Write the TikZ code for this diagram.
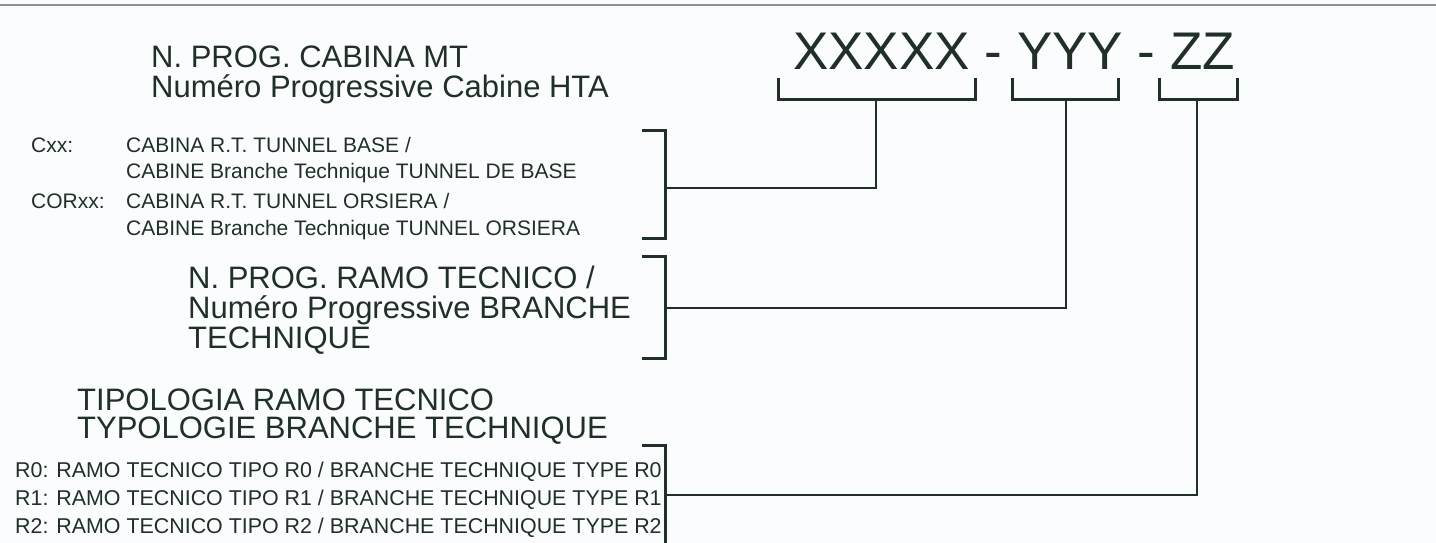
\documentclass[tikz,border=0pt]{standalone}
\usepackage{fontspec}
\setmainfont{Liberation Sans}
\definecolor{ink}{RGB}{32,48,40}
\definecolor{rule}{RGB}{140,145,150}
\definecolor{paper}{RGB}{251,252,254}
\begin{document}
\begin{tikzpicture}[x=1pt,y=-1pt,
  txt/.style={anchor=base west,inner sep=0pt,text=ink},
  big/.style={txt,font=\fontsize{53}{53}\selectfont},
  ttl/.style={txt,font=\fontsize{31}{31}\selectfont},
  sml/.style={txt,font=\fontsize{21}{21}\selectfont},
  rsml/.style={txt,font=\fontsize{21.4}{21.4}\selectfont},
  brk/.style={draw=ink,line width=3pt,line cap=butt,line join=miter},
  con/.style={draw=ink,line width=2.2pt}]
\fill[paper] (0,0) rectangle (1436,543);
\useasboundingbox (0,0) rectangle (1436,543);
\draw[rule,line width=2.2pt] (0,5) -- (1436,5);

% code
\node[big] (code) at (793,70) {XXXXX - YYY - ZZ};

% top brackets
\draw[brk] (778,78) -- (778,100) -- (975,100) -- (975,78);
\draw[brk] (1012,78) -- (1012,100) -- (1118,100) -- (1118,78);
\draw[brk] (1159,78) -- (1159,100) -- (1237,100) -- (1237,78);
\coordinate (xb) at (876,100);
\coordinate (yb) at (1066,100);
\coordinate (zb) at (1197,100);

% title 1
\node[ttl] (t1a) at (151,67) {N. PROG. CABINA MT};
\node[ttl] (t1b) at (151,98) {Numéro Progressive Cabine HTA};

% group 1
\node[sml] (c1k) at (31,152) {Cxx:};
\node[sml] (c1a) at (126,152) {CABINA R.T. TUNNEL BASE /};
\node[sml] (c1b) at (126,178) {CABINE Branche Technique TUNNEL DE BASE};
\node[sml] (c2k) at (31,208) {CORxx:};
\node[sml] (c2a) at (126,208) {CABINA R.T. TUNNEL ORSIERA /};
\node[sml] (c2b) at (126,235) {CABINE Branche Technique TUNNEL ORSIERA};
\draw[brk] (642,130) -- (665,130) -- (665,238) -- (642,238);
\coordinate (lb1) at (665,188);

% title 2
\node[ttl] (t2a) at (188,288) {N. PROG. RAMO TECNICO /};
\node[ttl] (t2b) at (188,318) {Numéro Progressive BRANCHE};
\node[ttl] (t2c) at (188,348) {TECHNIQUE};
\draw[brk] (642,256) -- (665,256) -- (665,358) -- (642,358);
\coordinate (lb2) at (665,308);

% title 3
\node[ttl] (t3a) at (77,410) {TIPOLOGIA RAMO TECNICO};
\node[ttl] (t3b) at (77,438) {TYPOLOGIE BRANCHE TECHNIQUE};
\node[rsml] (r0) at (15,477) {R0: RAMO TECNICO TIPO R0 / BRANCHE TECHNIQUE TYPE R0};
\node[rsml] (r1) at (15,505) {R1: RAMO TECNICO TIPO R1 / BRANCHE TECHNIQUE TYPE R1};
\node[rsml] (r2) at (15,533) {R2: RAMO TECNICO TIPO R2 / BRANCHE TECHNIQUE TYPE R2};
\draw[brk] (642,445) -- (665,445) -- (665,548);
\coordinate (lb3) at (665,495);

% connectors
\draw[con] (xb) |- (lb1);
\draw[con] (yb) |- (lb2);
\draw[con] (zb) |- (lb3);
\end{tikzpicture}
\end{document}
